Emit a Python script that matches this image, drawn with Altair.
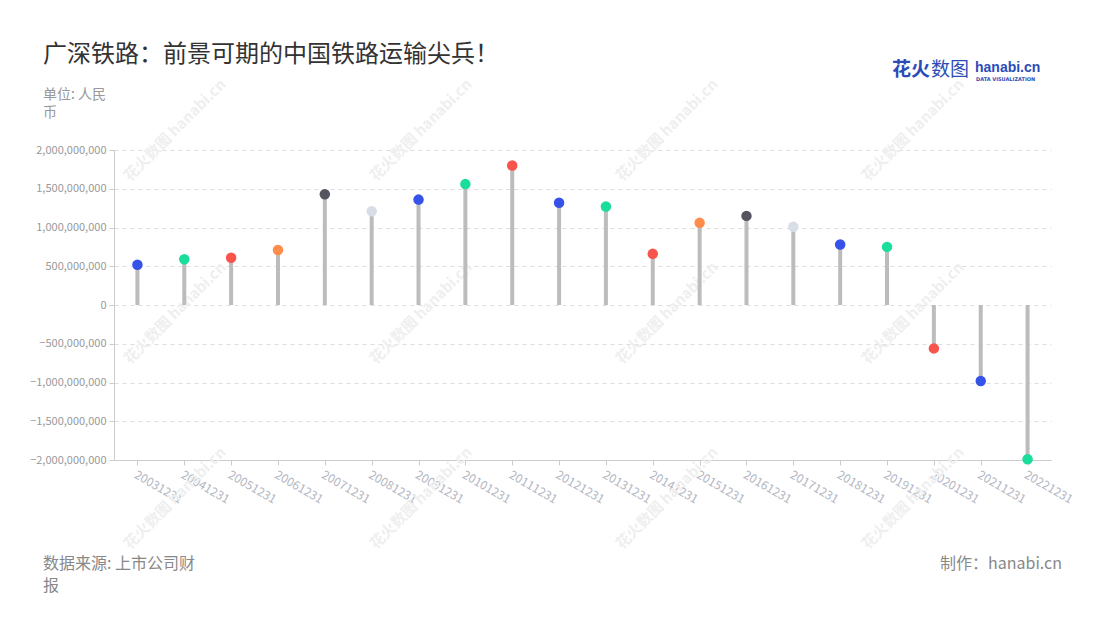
import altair as alt
import pandas as pd

dates = ["20031231", "20041231", "20051231", "20061231", "20071231", "20081231",
         "20091231", "20101231", "20111231", "20121231", "20131231", "20141231",
         "20151231", "20161231", "20171231", "20181231", "20191231", "20201231",
         "20211231", "20221231"]
values = [520e6, 590e6, 610e6, 710e6, 1430e6, 1210e6, 1360e6, 1560e6, 1800e6,
          1320e6, 1270e6, 660e6, 1060e6, 1150e6, 1010e6, 780e6, 750e6, -560e6,
          -980e6, -1990e6]
point_colors = ["#3752e8", "#19dd9a", "#f9544c", "#ff8c4a", "#55555f", "#d8dde6",
                "#3752e8", "#19dd9a", "#f9544c", "#3752e8", "#19dd9a", "#f9544c",
                "#ff8c4a", "#55555f", "#d8dde6", "#3752e8", "#19dd9a", "#f9544c",
                "#3752e8", "#19dd9a"]
y_ticks = [-2e9, -1.5e9, -1e9, -5e8, 0, 5e8, 1e9, 1.5e9, 2e9]

title_text = "广深铁路：前景可期的中国铁路运输尖兵！"
unit_text = ["单位: 人民", "币"]
source_text = ["数据来源: 上市公司财", "报"]
credit_text = "制作：hanabi.cn"
watermark_text = "花火数图 hanabi.cn"

FONT = "Noto Sans CJK SC"

df = pd.DataFrame({"date": dates, "value": values})
df["zero"] = 0

W, H = 937, 310
ox, oy = 114, 150

x_enc = alt.X("date:N", sort=dates, title=None,
              scale=alt.Scale(type="point", padding=0.5),
              axis=alt.Axis(labelAngle=30, labelAlign="left", labelBaseline="top",
                            labelColor="#b3b6c2", labelFontSize=12, labelFont=FONT,
                            labelPadding=4, tickColor="#cccccc", tickSize=5,
                            domainColor="#cccccc", grid=False, labelOverlap=False))
y_enc = alt.Y("value:Q", scale=alt.Scale(domain=[-2e9, 2e9], nice=False), title=None,
              axis=alt.Axis(values=y_ticks, format=",.0f", labelColor="#999999",
                            labelFontSize=11, labelFont=FONT, labelPadding=3,
                            labelOverlap=False,
                            tickColor="#cccccc", tickSize=5, domainColor="#cccccc",
                            gridColor="#dddddd", gridDash=[4, 4]))

stems = alt.Chart(df).mark_rule(strokeWidth=4, color="#bcbcbc").encode(
    x=x_enc, y=y_enc, y2="zero:Q",
)

dots = alt.Chart(df).mark_circle(size=110, opacity=1).encode(
    x=x_enc, y=y_enc,
    color=alt.Color("date:N", scale=alt.Scale(domain=dates, range=point_colors), legend=None),
)

def label(text, x, y, size, color, align="left", weight="normal", line_height=None,
          font=FONT, angle=0, baseline="top"):
    kw = dict(text=text, align=align, baseline=baseline, fontSize=size, color=color,
              font=font, fontWeight=weight, angle=angle)
    if line_height:
        kw["lineHeight"] = line_height
    return alt.Chart(pd.DataFrame({"a": [0]})).mark_text(**kw).encode(
        x=alt.value(x), y=alt.value(y))

wm_cols = [130, 376, 622, 868]
wm_rows = [182, 365, 550]
watermarks = [label(watermark_text, cx - ox, ry - oy, 15, "#efefef", weight="bold",
                    angle=315, baseline="alphabetic")
              for ry in wm_rows for cx in wm_cols]

texts = [
    label(title_text, 43 - ox, 43 - oy, 24, "#333333"),
    label(unit_text, 43 - ox, 88 - oy, 14, "#999999", line_height=18),
    label(source_text, 43 - ox, 556 - oy, 16, "#888888", line_height=22),
    label(credit_text, 1062 - ox, 556 - oy, 16, "#888888", align="right"),
    label("花火", 892 - ox, 61 - oy, 19, "#2b4cb6", weight="bold"),
    label("数图", 931 - ox, 61 - oy, 19, "#2b4cb6"),
    label("hanabi.cn", 975 - ox, 61 - oy, 14, "#2b4cb6", weight="bold", font="Liberation Sans"),
    label("DATA VISUALIZATION", 976 - ox, 77 - oy, 5, "#2b4cb6", weight="bold", font="DejaVu Sans"),
]

chart = alt.layer(*watermarks, stems, dots, *texts).properties(
    width=W, height=H,
    autosize=alt.AutoSizeParams(type="none"),
    padding={"left": 106, "top": 142, "right": 40, "bottom": 150},
    background="white",
).configure_view(stroke=None)

chart.save("out.html", embed_options={"renderer": "svg", "actions": False})
